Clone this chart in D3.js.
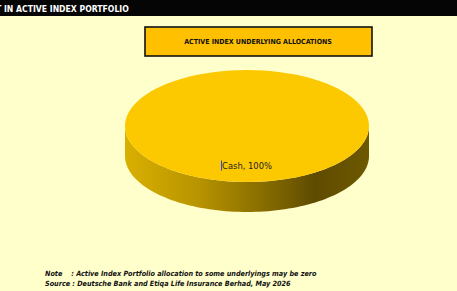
<!DOCTYPE html>
<html>
<head>
<meta charset="utf-8">
<script src="https://cdn.jsdelivr.net/npm/d3@7"></script>
<style>
  body { margin: 0; background: #ffffcc; }
  svg { display: block; }
</style>
</head>
<body>
<svg id="chart"></svg>
<script>
// chart data
const categories = ['Cash'];
const values = [100];
const headerText = 'T IN ACTIVE INDEX PORTFOLIO';
const chartTitle = 'ACTIVE INDEX UNDERLYING ALLOCATIONS';
const notes = [
	'Note    : Active Index Portfolio allocation to some underlyings may be zero',
	'Source : Deutsche Bank and Etiqa Life Insurance Berhad, May 2026'
];

const W = 457, H = 291;
const font = '"DejaVu Sans Condensed", "DejaVu Sans", sans-serif';

const svg = d3.select('#chart')
	.attr('width', W)
	.attr('height', H);

svg.append('rect').attr('width', W).attr('height', H).attr('fill', '#ffffcc');

// header bar (text is cut at the left edge as in the source sheet)
svg.append('rect').attr('x', 0).attr('y', 0).attr('width', W).attr('height', 16).attr('fill', '#050505');
svg.append('text')
	.attr('x', -4).attr('y', 11.5)
	.attr('fill', '#fff')
	.attr('font-family', font)
	.attr('font-weight', 'bold')
	.attr('font-size', 8.6)
	.text(headerText);

// title box
svg.append('rect')
	.attr('x', 145).attr('y', 27).attr('width', 227).attr('height', 29)
	.attr('fill', '#ffc000')
	.attr('stroke', '#111').attr('stroke-width', 1.6);
svg.append('text')
	.attr('x', 258).attr('y', 44)
	.attr('text-anchor', 'middle')
	.attr('font-family', font)
	.attr('font-weight', 'bold')
	.attr('font-size', 7)
	.attr('fill', '#111')
	.text(chartTitle);

// 3d pie
const cx = 247, cy = 126, rx = 122, ry = 56, depth = 30;

const defs = svg.append('defs');
const grad = defs.append('linearGradient')
	.attr('id', 'sideGrad')
	.attr('gradientUnits', 'userSpaceOnUse')
	.attr('x1', cx - rx).attr('x2', cx + rx).attr('y1', 0).attr('y2', 0);
[[0, '#d9b000'], [0.3, '#b89400'], [0.55, '#8a6f00'], [0.78, '#5f4b00'], [1, '#6e5800']]
	.forEach(s => grad.append('stop').attr('offset', s[0]).attr('stop-color', s[1]));

const piedata = d3.pie().sort(null).value(d => d)(values);
const colors = d3.scaleOrdinal(['#fcc800']);

// point on ellipse, angle measured clockwise from 12 o'clock as d3.pie does
const px = a => cx + rx * Math.sin(a);
const py = (a, h) => cy - ry * Math.cos(a) + h;

function topPath(d) {
	const p = d3.path();
	const n = 90;
	const full = d.endAngle - d.startAngle >= 2 * Math.PI - 1e-6;
	if (!full) p.moveTo(cx, cy), p.lineTo(px(d.startAngle), py(d.startAngle, 0));
	else p.moveTo(px(d.startAngle), py(d.startAngle, 0));
	for (let i = 1; i <= n; i++) {
		const a = d.startAngle + (d.endAngle - d.startAngle) * i / n;
		p.lineTo(px(a), py(a, 0));
	}
	p.closePath();
	return p.toString();
}

// visible side: front half, angles between PI/2 and 3PI/2
function sidePath(d) {
	const s = Math.max(d.startAngle, Math.PI / 2);
	const e = Math.min(d.endAngle, 3 * Math.PI / 2);
	if (e <= s) return null;
	const p = d3.path();
	const n = 90;
	p.moveTo(px(s), py(s, 0));
	for (let i = 1; i <= n; i++) {
		const a = s + (e - s) * i / n;
		p.lineTo(px(a), py(a, 0));
	}
	for (let i = n; i >= 0; i--) {
		const a = s + (e - s) * i / n;
		p.lineTo(px(a), py(a, depth));
	}
	p.closePath();
	return p.toString();
}

const g = svg.append('g');
g.selectAll('path.side')
	.data(piedata)
	.join('path')
	.attr('class', 'side')
	.attr('d', sidePath)
	.attr('fill', 'url(#sideGrad)');

g.selectAll('path.top')
	.data(piedata)
	.join('path')
	.attr('class', 'top')
	.attr('d', topPath)
	.attr('fill', (d, i) => colors(i));

// data labels
piedata.forEach((d, i) => {
	const full = d.endAngle - d.startAngle >= 2 * Math.PI - 1e-6;
	const mid = full ? Math.PI : (d.startAngle + d.endAngle) / 2;
	const lx = full ? cx : cx + rx * 0.6 * Math.sin(mid);
	const ly = cy - ry * 0.76 * Math.cos(mid);
	const t = g.append('text')
		.attr('x', lx).attr('y', ly)
		.attr('text-anchor', 'middle')
		.attr('font-family', font)
		.attr('font-size', 9.3)
		.attr('fill', '#222')
		.text(`${categories[i]}, ${values[i]}%`);
	const bb = t.node().getBBox();
	g.append('line')
		.attr('x1', bb.x - 0.5).attr('x2', bb.x - 0.5)
		.attr('y1', bb.y + 1).attr('y2', bb.y + bb.height)
		.attr('stroke', '#2040ff').attr('stroke-width', 1);
});

// notes
svg.selectAll('text.note')
	.data(notes)
	.join('text')
	.attr('class', 'note')
	.attr('x', 45)
	.attr('y', (d, i) => 276 + i * 9.5)
	.attr('font-family', font)
	.attr('font-weight', 'bold')
	.attr('font-style', 'italic')
	.attr('font-size', 7.2)
	.attr('fill', '#111')
	.attr('xml:space', 'preserve')
	.style('white-space', 'pre')
	.text(d => d);
</script>
</body>
</html>
